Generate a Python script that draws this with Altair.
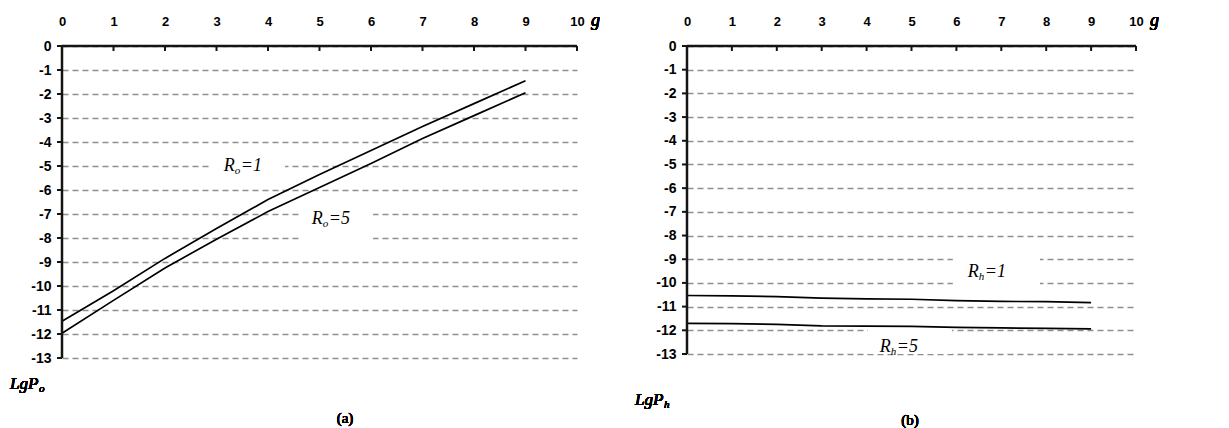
import altair as alt
import pandas as pd

# ---- data ----
g_values = [0, 1, 2, 3, 4, 5, 6, 7, 8, 9]

# panel (a)
lgpo_r1 = [-11.47, -10.2, -8.85, -7.6, -6.4, -5.35, -4.35, -3.35, -2.4, -1.45]
lgpo_r5 = [-11.97, -10.6, -9.25, -8.05, -6.9, -5.9, -4.9, -3.85, -2.9, -1.95]

# panel (b)
lgph_r1 = [-10.53, -10.55, -10.58, -10.64, -10.67, -10.69, -10.75, -10.78, -10.79, -10.83]
lgph_r5 = [-11.71, -11.72, -11.75, -11.81, -11.82, -11.83, -11.88, -11.90, -11.92, -11.94]

x_ticks = list(range(0, 11))
y_ticks = list(range(-13, 1))

# annotation labels: text pieces and their place in data units
labels_a = {
    "main": ["R", "R"], "sub": ["o", "o"], "rest": ["=1", "=5"],
    "g": [3.53, 5.24], "lg": [-5.0, -7.21],
    "gx0": [2.91, 4.62], "gx1": [4.33, 6.04], "ly0": [-4.5, -6.5], "ly1": [-5.5, -8.5],
}
labels_b = {
    "main": ["R", "R"], "sub": ["h", "h"], "rest": ["=1", "=5"],
    "g": [6.7, 4.74], "lg": [-9.54, -12.69],
    "gx0": [5.92, 4.03], "gx1": [7.86, 5.9], "ly0": [-8.6, -11.55], "ly1": [-10.4, -13.0],
}

SERIF = "Liberation Serif"
SANS = "Liberation Sans"
INK = "#141414"

XSCALE = alt.Scale(domain=[0, 10], nice=False, zero=False)
YSCALE = alt.Scale(domain=[-13, 0], nice=False, zero=False)

XAXIS = alt.Axis(
    orient="top", values=x_ticks, grid=False, ticks=False, domain=False, labelPadding=18,
    labelFont=SANS, labelFontWeight="bold",
    labelFontSize=13, labelColor="black", title=None, labelAngle=0,
    labelFlush=False, labelOverlap=False,
)
YAXIS = alt.Axis(
    orient="left", values=y_ticks, grid=True, gridDash=[6, 4], gridColor="#8f8f8f",
    gridWidth=1.5, ticks=False, domain=False, labelPadding=11, labelFont=SANS,
    labelFontWeight="bold", labelFontSize=14, labelColor="black", title=None,
    labelExpr="datum.value + ''", labelOverlap=False, labelFlush=False,
)


def X(field):
    return alt.X(field, scale=XSCALE, axis=XAXIS)


def Y(field):
    return alt.Y(field, scale=YSCALE, axis=YAXIS)


def panel(series1, series5, labels, width, height, ylab_sub, caption, caption_x, caption_y, ylab_y):
    df = pd.DataFrame({
        "g": g_values * 2,
        "v": series1 + series5,
        "s": ["1"] * len(g_values) + ["5"] * len(g_values),
    })
    lab = pd.DataFrame(labels)
    ticks = pd.DataFrame({"g": x_ticks})
    yt = pd.DataFrame({"v": y_ticks})
    frame = pd.DataFrame({"g0": [x_ticks[0]], "g1": [x_ticks[-1]],
                          "v0": [y_ticks[0]], "v1": [y_ticks[-1]]})

    boxes = alt.Chart(lab).mark_rect(color="white").encode(
        x=X("gx0:Q"), x2="gx1:Q", y=Y("ly0:Q"), y2="ly1:Q",
    )

    lines = alt.Chart(df).mark_line(color="black", strokeWidth=1.7).encode(
        x=X("g:Q"), y=Y("v:Q"), detail="s:N",
    )

    # axis lines (top and left) and tick marks
    top_line = alt.Chart(frame).mark_rule(color=INK, strokeWidth=2.5).encode(
        x=X("g0:Q"), x2="g1:Q", y=Y("v1:Q"),
    )
    left_line = alt.Chart(frame).mark_rule(color=INK, strokeWidth=2.5).encode(
        x=X("g0:Q"), y=Y("v0:Q"), y2="v1:Q",
    )
    xtickmarks = alt.Chart(ticks).mark_rule(color=INK, strokeWidth=2).encode(
        x=X("g:Q"), y=alt.value(0), y2=alt.value(5),
    )
    ytickmarks = alt.Chart(yt).mark_rule(color=INK, strokeWidth=2).encode(
        y=Y("v:Q"), x=alt.value(-5), x2=alt.value(0),
    )

    def lab_text(field, size, dx, dy=0):
        return alt.Chart(lab).mark_text(
            font=SERIF, fontStyle="italic", fontWeight="normal", fontSize=size,
            align="left", baseline="middle", dx=dx, dy=dy, color="black",
        ).encode(x=X("g:Q"), y=Y("lg:Q"), text=f"{field}:N")

    t_main = lab_text("main", 18, -20)
    t_sub = lab_text("sub", 11, -9, 5)
    t_rest = lab_text("rest", 18, -3)

    g_text = alt.Chart(ticks).mark_text(
        font=SERIF, fontStyle="italic", fontWeight="normal", fontSize=18, align="left",
        baseline="alphabetic", color="black", text="g",
    ).encode(x=alt.value(width + 14), y=alt.value(-20))

    ylab_main = alt.Chart(ticks).mark_text(
        font=SERIF, fontStyle="italic", fontWeight="normal", fontSize=17, align="left",
        baseline="middle", color="black", text="LgP",
    ).encode(x=alt.value(-52), y=alt.value(ylab_y))
    ylab_s = alt.Chart(ticks).mark_text(
        font=SERIF, fontStyle="italic", fontWeight="normal", fontSize=11, align="left",
        baseline="middle", color="black", text=ylab_sub,
    ).encode(x=alt.value(-23), y=alt.value(ylab_y + 5))

    cap = alt.Chart(ticks).mark_text(
        font=SERIF, fontWeight="normal", fontSize=15, align="center", baseline="middle",
        color="black", text=caption,
    ).encode(x=alt.value(caption_x), y=alt.value(caption_y))

    return alt.layer(
        boxes, lines, top_line, left_line, xtickmarks, ytickmarks,
        t_main, t_sub, t_rest, g_text, ylab_main, ylab_s, cap
    ).properties(width=width, height=height)


left = panel(lgpo_r1, lgpo_r5, labels_a, 515, 312, "o", "(a)", 283, 372, 338)
right = panel(lgph_r1, lgph_r5, labels_b, 449, 308, "h", "(b)", 223, 374, 354)

chart = alt.hconcat(left, right, spacing=110, bounds="flush").configure_view(
    stroke=None
).properties(
    padding={"left": 10, "top": 12, "right": 0, "bottom": 0},
    background="white",
)

chart.save("out.html", embed_options={"renderer": "svg", "actions": False})
